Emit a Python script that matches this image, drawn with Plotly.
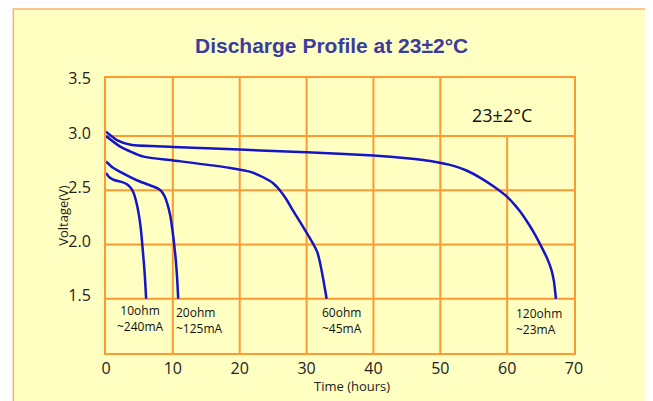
import plotly.graph_objects as go

# ---- data ----
t_120 = [0, 1.7, 3.7, 10, 20, 30, 40, 45, 48.5, 52, 54, 56, 58, 60, 61, 62, 63, 64, 65, 66, 66.6, 67.0, 67.3]
v_120 = [3.04, 2.96, 2.92, 2.90, 2.875, 2.85, 2.82, 2.795, 2.77, 2.725, 2.68, 2.615, 2.535, 2.44, 2.375, 2.30, 2.21, 2.11, 1.995, 1.87, 1.77, 1.66, 1.5]

t_60 = [0, 2.2, 5.6, 10.1, 18.6, 21.6, 23.5, 25, 26, 27, 28, 29.5, 31.6, 33.0]
v_60 = [3.0, 2.90, 2.81, 2.775, 2.706, 2.67, 2.62, 2.565, 2.50, 2.415, 2.31, 2.16, 1.93, 1.5]

t_20 = [0, 1.0, 2.2, 4.7, 7.1, 7.8, 8.3, 8.8, 9.2, 9.6, 9.9, 10.2, 10.45, 10.65, 10.8]
v_20 = [2.766, 2.71, 2.667, 2.59, 2.534, 2.515, 2.49, 2.44, 2.37, 2.27, 2.15, 2.0, 1.85, 1.68, 1.5]

t_10 = [0, 0.5, 1.2, 2.2, 3.0, 3.6, 4.1, 4.5, 4.9, 5.2, 5.5, 5.8, 6.0]
v_10 = [2.66, 2.62, 2.595, 2.58, 2.56, 2.53, 2.48, 2.40, 2.28, 2.15, 1.95, 1.72, 1.5]

x_ticks = [0, 10, 20, 30, 40, 50, 60, 70]
y_ticks = [1.5, 2.0, 2.5, 3.0, 3.5]
x_grid_full = [10, 20, 30, 40, 50]
x_grid_partial = [60]
y_grid = [1.5, 2.0, 2.5, 3.0]

labels = [
    ("10ohm<br>~240mA", 5.1, 1.32, "center"),
    ("20ohm<br>~125mA", 10.2, 1.30, "left"),
    ("60ohm<br>~45mA", 32.0, 1.30, "left"),
    ("120ohm<br>~23mA", 61.0, 1.29, "left"),
]

ORANGE = "#FF9A33"
BLUE = "#1414C8"
BG = "#FFFFC2"
FONT = "Open Sans"

fig = go.Figure()
for tx, vy in [(t_120, v_120), (t_60, v_60), (t_20, v_20), (t_10, v_10)]:
    fig.add_trace(go.Scatter(x=tx, y=vy, mode="lines",
                             line=dict(color=BLUE, width=2.5, shape="spline", smoothing=0.6),
                             showlegend=False, hoverinfo="skip"))

shapes = []
# outer frame / background
shapes.append(dict(type="rect", xref="paper", yref="paper", x0=-0.198, x1=1.25, y0=-0.25, y1=1.251,
                   fillcolor=BG, line=dict(color="#FFB070", width=1.5), layer="below"))
for xv in x_grid_full:
    shapes.append(dict(type="line", xref="x", yref="y domain", x0=xv, x1=xv, y0=0, y1=1,
                       line=dict(color=ORANGE, width=2), layer="below"))
for xv in x_grid_partial:
    shapes.append(dict(type="line", xref="x", yref="y", x0=xv, x1=xv, y0=1.0, y1=3.0,
                       line=dict(color=ORANGE, width=2), layer="below"))
for yv in y_grid:
    shapes.append(dict(type="line", xref="x domain", yref="y", x0=0, x1=1, y0=yv, y1=yv,
                       line=dict(color=ORANGE, width=2), layer="below"))

annotations = [
    dict(text="<b>Discharge Profile at 23±2°C</b>", xref="paper", yref="paper", x=0.481, y=1.1165,
         showarrow=False, font=dict(family="Arial", size=21, color="#3B3BA0"), xanchor="center", yanchor="middle"),
    dict(text="23±2°C", xref="x", yref="y", x=59.2, y=3.19, showarrow=False,
         font=dict(family=FONT, size=18, color="#111111"), xanchor="center", yanchor="middle"),
    dict(text="Time (hours)", xref="paper", yref="paper", x=0.5256, y=-0.121, showarrow=False,
         font=dict(family=FONT, size=13, color="#222222"), xanchor="center", yanchor="middle"),
    dict(text="Voltage(V)", xref="paper", yref="paper", x=-0.0906, y=0.501, showarrow=False, textangle=-90,
         font=dict(family=FONT, size=13, color="#222222"), xanchor="center", yanchor="middle"),
]
for txt, xv, yv, al in labels:
    annotations.append(dict(text=txt, xref="x", yref="y", x=xv, y=yv, showarrow=False, align=al,
                            xanchor="center" if al == "center" else "left", yanchor="middle",
                            font=dict(family=FONT, size=12, color="#111111")))

# the page body adds an 8px margin, so the figure is 8px smaller on each axis
fig.update_layout(
    width=645, height=393,
    margin=dict(l=97.5, r=78.5, t=70, b=48.3, pad=0),
    paper_bgcolor="white", plot_bgcolor="rgba(0,0,0,0)",
    shapes=shapes, annotations=annotations,
    xaxis=dict(range=[0, 70], tickvals=x_ticks, ticktext=[str(v) for v in x_ticks],
               showgrid=False, zeroline=False, showline=True, mirror=True,
               linecolor=ORANGE, linewidth=2, ticks="", ticklabelstandoff=0,
               tickfont=dict(family=FONT, size=16, color="#222222")),
    yaxis=dict(range=[1.0, 3.535], tickvals=y_ticks, ticktext=["%.1f" % v for v in y_ticks],
               showgrid=False, zeroline=False, showline=True, mirror=True,
               linecolor=ORANGE, linewidth=2, ticks="", ticklabelstandoff=10, ticklabelshift=-3,
               tickfont=dict(family=FONT, size=16, color="#222222")),
)

fig.write_html("out.html")
